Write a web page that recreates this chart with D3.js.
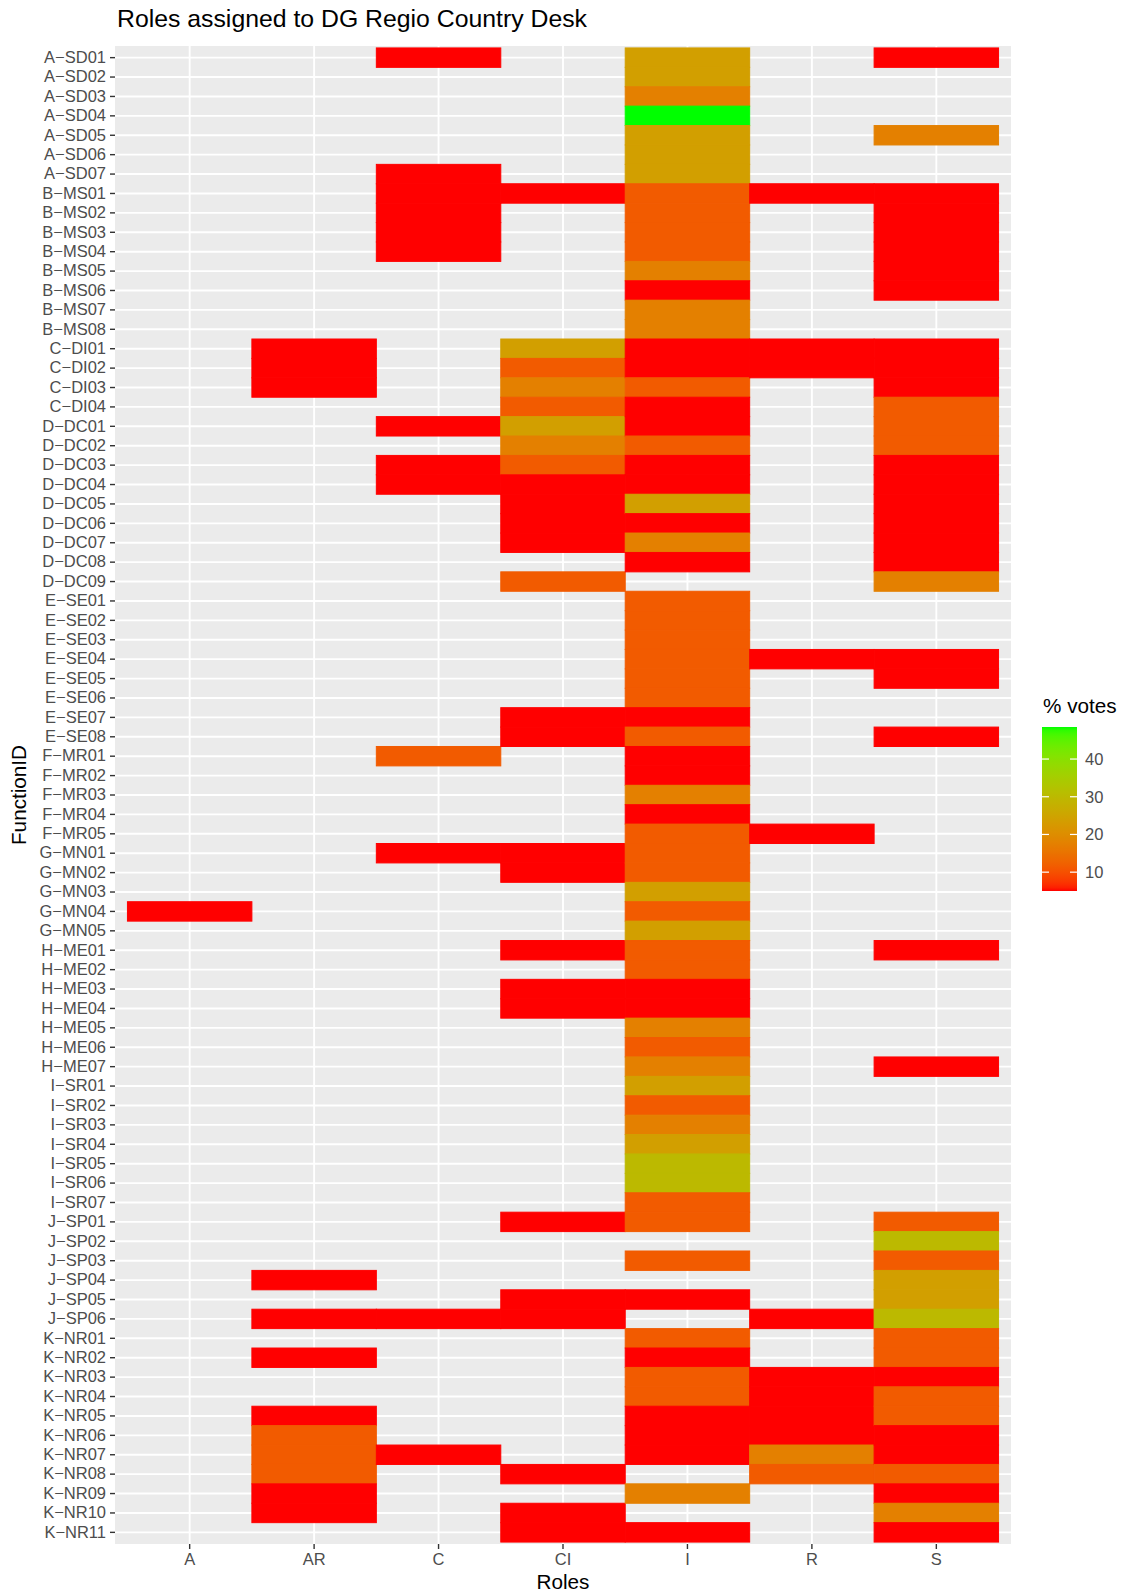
<!DOCTYPE html>
<html>
<head>
<meta charset="utf-8">
<script src="https://cdn.jsdelivr.net/npm/d3@7/dist/d3.min.js"></script>
<style>
  html, body { margin: 0; padding: 0; background: #ffffff; }
  svg { display: block; font-family: "Liberation Sans", Arial, sans-serif; }
</style>
</head>
<body>
<svg id="chart" width="1123" height="1596"></svg>
<script>
// Function identifiers (y axis, top to bottom)
const functionIds = [
  "A-SD01","A-SD02","A-SD03","A-SD04","A-SD05","A-SD06","A-SD07",
  "B-MS01","B-MS02","B-MS03","B-MS04","B-MS05","B-MS06","B-MS07","B-MS08",
  "C-DI01","C-DI02","C-DI03","C-DI04",
  "D-DC01","D-DC02","D-DC03","D-DC04","D-DC05","D-DC06","D-DC07","D-DC08","D-DC09",
  "E-SE01","E-SE02","E-SE03","E-SE04","E-SE05","E-SE06","E-SE07","E-SE08",
  "F-MR01","F-MR02","F-MR03","F-MR04","F-MR05",
  "G-MN01","G-MN02","G-MN03","G-MN04","G-MN05",
  "H-ME01","H-ME02","H-ME03","H-ME04","H-ME05","H-ME06","H-ME07",
  "I-SR01","I-SR02","I-SR03","I-SR04","I-SR05","I-SR06","I-SR07",
  "J-SP01","J-SP02","J-SP03","J-SP04","J-SP05","J-SP06",
  "K-NR01","K-NR02","K-NR03","K-NR04","K-NR05","K-NR06","K-NR07","K-NR08","K-NR09","K-NR10","K-NR11"
];

// Roles (x axis)
const roles = ["A", "AR", "C", "CI", "I", "R", "S"];

// % votes per role, one entry per function (null = no votes)
// groups per line segment: A-SD (7) | B-MS (8) | C-DI (4) | D-DC (9) | E-SE (8) | F-MR (5) | G-MN (5) | H-ME (7) | I-SR (7) | J-SP (6) | K-NR (11)
const votesA  = [null,null,null,null,null,null,null, null,null,null,null,null,null,null,null, null,null,null,null, null,null,null,null,null,null,null,null,null, null,null,null,null,null,null,null,null, null,null,null,null,null, null,null,null,5,null, null,null,null,null,null,null,null, null,null,null,null,null,null,null, null,null,null,null,null,null, null,null,null,null,null,null,null,null,null,null,null];
const votesAR = [null,null,null,null,null,null,null, null,null,null,null,null,null,null,null, 5,5,5,null, null,null,null,null,null,null,null,null,null, null,null,null,null,null,null,null,null, null,null,null,null,null, null,null,null,null,null, null,null,null,null,null,null,null, null,null,null,null,null,null,null, null,null,null,5,null,5, null,5,null,null,5,11.5,11.5,11.5,5,5,null];
const votesC  = [5,null,null,null,null,null,5, 5,5,5,5,null,null,null,null, null,null,null,null, 5,null,5,5,null,null,null,null,null, null,null,null,null,null,null,null,null, 11.5,null,null,null,null, 5,null,null,null,null, null,null,null,null,null,null,null, null,null,null,null,null,null,null, null,null,null,null,null,5, null,null,null,null,null,null,5,null,null,null,null];
const votesCI = [null,null,null,null,null,null,null, 5,null,null,null,null,null,null,null, 24,11.5,17.5,11.5, 24,17.5,11.5,5,5,5,5,null,11.5, null,null,null,null,null,null,5,5, null,null,null,null,null, 5,5,null,null,null, 5,null,5,5,null,null,null, null,null,null,null,null,null,null, 5,null,null,null,5,5, null,null,null,null,null,null,null,5,null,5,5];
const votesI  = [24,24,17.5,48.5,24,24,24, 11.5,11.5,11.5,11.5,17.5,5,17.5,17.5, 5,5,11.5,5, 5,11.5,5,5,24,5,17.5,5,null, 11.5,11.5,11.5,11.5,11.5,11.5,5,11.5, 5,5,17.5,5,11.5, 11.5,11.5,24,11.5,24, 11.5,11.5,5,5,17.5,11.5,17.5, 24,11.5,17.5,24,30,30,11.5, 11.5,null,11.5,null,5,null, 11.5,5,11.5,11.5,5,5,5,null,17.5,null,5];
const votesR  = [null,null,null,null,null,null,null, 5,null,null,null,null,null,null,null, 5,5,null,null, null,null,null,null,null,null,null,null,null, null,null,null,5,null,null,null,null, null,null,null,null,5, null,null,null,null,null, null,null,null,null,null,null,null, null,null,null,null,null,null,null, null,null,null,null,null,5, null,null,5,5,5,5,17.5,11.5,null,null,null];
const votesS  = [5,null,null,null,17.5,null,null, 5,5,5,5,5,5,null,null, 5,5,5,11.5, 11.5,11.5,5,5,5,5,5,5,17.5, null,null,null,5,5,null,null,5, null,null,null,null,null, null,null,null,null,null, 5,null,null,null,null,null,5, null,null,null,null,null,null,null, 11.5,30,11.5,24,24,30, 11.5,11.5,5,11.5,11.5,5,5,11.5,5,17.5,5];

const legendTicks = [10, 20, 30, 40];

const seriesByRole = { A: votesA, AR: votesAR, C: votesC, CI: votesCI, I: votesI, R: votesR, S: votesS };

// Long-format table of filled cells
const cells = [];
roles.forEach(role => {
  seriesByRole[role].forEach((v, i) => {
    if (v != null) cells.push({ role, id: functionIds[i], value: v });
  });
});

const svg = d3.select("#chart");
const W = 1123, H = 1596;
svg.append("rect").attr("width", W).attr("height", H).attr("fill", "#ffffff");

const panel = { left: 115, right: 1011, top: 46, bottom: 1544 };

const x = d3.scaleBand().domain(roles)
  .range([panel.left, panel.right]).paddingInner(0).paddingOuter(0.1);
const y = d3.scaleBand().domain(functionIds)
  .range([panel.top, panel.bottom]).paddingInner(0).paddingOuter(0.1);

const extent = d3.extent(cells, d => d.value);
const color = d3.scaleLinear().domain(extent)
  .range(["#FF0000", "#00FF00"]).interpolate(d3.interpolateLab);

// Panel background and grid
svg.append("rect")
  .attr("x", panel.left).attr("y", panel.top)
  .attr("width", panel.right - panel.left).attr("height", panel.bottom - panel.top)
  .attr("fill", "#EBEBEB");

const grid = svg.append("g").attr("stroke", "#ffffff").attr("stroke-width", 1.9);
grid.selectAll("line.v").data(roles).join("line")
  .attr("x1", d => x(d) + x.bandwidth() / 2).attr("x2", d => x(d) + x.bandwidth() / 2)
  .attr("y1", panel.top).attr("y2", panel.bottom);
grid.selectAll("line.h").data(functionIds).join("line")
  .attr("y1", d => y(d) + y.bandwidth() / 2).attr("y2", d => y(d) + y.bandwidth() / 2)
  .attr("x1", panel.left).attr("x2", panel.right);

// Tiles
svg.append("g").selectAll("rect").data(cells).join("rect")
  .attr("x", d => x(d.role)).attr("y", d => y(d.id))
  .attr("width", x.bandwidth()).attr("height", y.bandwidth())
  .attr("fill", d => color(d.value))
  .attr("stroke", d => color(d.value)).attr("stroke-width", 1);

// Axes
const axisFont = 16.5;
const yAxis = svg.append("g").attr("transform", `translate(${panel.left},0)`)
  .call(d3.axisLeft(y).tickSize(5).tickPadding(4).tickFormat(d => d.replace("-", "\u2212")));
const xAxis = svg.append("g").attr("transform", `translate(0,${panel.bottom})`)
  .call(d3.axisBottom(x).tickSize(5).tickPadding(4));
[yAxis, xAxis].forEach(a => {
  a.select(".domain").remove();
  a.selectAll(".tick line").attr("stroke", "#333333").attr("stroke-width", 1.4);
  a.selectAll(".tick text").attr("fill", "#4D4D4D")
    .style("font-size", axisFont + "px")
    .style("font-family", "'Liberation Sans', Arial, sans-serif");
});

// Titles
svg.append("text").attr("x", 117).attr("y", 27)
  .attr("fill", "#000").style("font-size", "24.8px")
  .text("Roles assigned to DG Regio Country Desk");

svg.append("text").attr("x", (panel.left + panel.right) / 2).attr("y", 1589)
  .attr("text-anchor", "middle").attr("fill", "#000").style("font-size", "20.7px")
  .text("Roles");

svg.append("text")
  .attr("transform", `translate(26,${(panel.top + panel.bottom) / 2}) rotate(-90)`)
  .attr("text-anchor", "middle").attr("fill", "#000").style("font-size", "20.7px")
  .text("FunctionID");

// Colour bar legend
const bar = { x: 1042, w: 35, top: 727, bottom: 891 };
const legendY = d3.scaleLinear().domain(extent).range([bar.bottom, bar.top]);

const defs = svg.append("defs");
const grad = defs.append("linearGradient").attr("id", "votesGrad")
  .attr("x1", 0).attr("y1", 1).attr("x2", 0).attr("y2", 0);
d3.range(0, 1.0001, 0.02).forEach(t => {
  grad.append("stop").attr("offset", t)
    .attr("stop-color", color(extent[0] + t * (extent[1] - extent[0])));
});

svg.append("text").attr("x", 1043).attr("y", 713)
  .attr("fill", "#000").style("font-size", "20.7px").text("% votes");

svg.append("rect").attr("x", bar.x).attr("y", bar.top)
  .attr("width", bar.w).attr("height", bar.bottom - bar.top)
  .attr("fill", "url(#votesGrad)");

const tickLen = bar.w / 5;
const lt = svg.append("g");
lt.selectAll("line.l").data(legendTicks).join("line")
  .attr("x1", bar.x).attr("x2", bar.x + tickLen)
  .attr("y1", d => legendY(d)).attr("y2", d => legendY(d))
  .attr("stroke", "#ffffff").attr("stroke-width", 1.2);
lt.selectAll("line.r").data(legendTicks).join("line")
  .attr("x1", bar.x + bar.w - tickLen).attr("x2", bar.x + bar.w)
  .attr("y1", d => legendY(d)).attr("y2", d => legendY(d))
  .attr("stroke", "#ffffff").attr("stroke-width", 1.2);
lt.selectAll("text").data(legendTicks).join("text")
  .attr("x", 1085).attr("y", d => legendY(d)).attr("dy", "0.35em")
  .attr("fill", "#4D4D4D").style("font-size", axisFont + "px")
  .text(d => d);
</script>
</body>
</html>
